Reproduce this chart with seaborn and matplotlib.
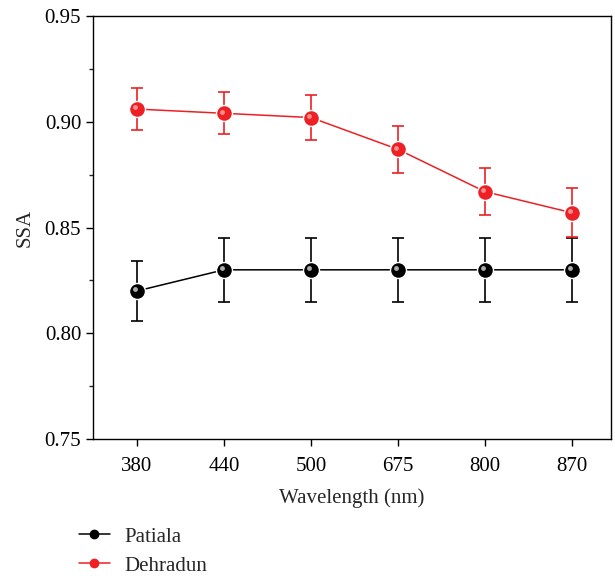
import matplotlib
matplotlib.use("Agg")
import matplotlib.pyplot as plt
import matplotlib.transforms as mtransforms
from matplotlib.lines import Line2D
from matplotlib.ticker import MultipleLocator
import seaborn as sns
import pandas as pd

wavelengths = ["380", "440", "500", "675", "800", "870"]
patiala = [0.820, 0.830, 0.830, 0.830, 0.830, 0.830]
patiala_err = [0.014, 0.015, 0.015, 0.015, 0.015, 0.015]
dehradun = [0.906, 0.904, 0.902, 0.887, 0.867, 0.857]
dehradun_err = [0.010, 0.010, 0.0105, 0.011, 0.011, 0.0115]

sns.set_theme(style="ticks")
plt.rcParams["font.family"] = ["Liberation Serif", "DejaVu Serif"]
plt.rcParams["font.size"] = 15

fig = plt.figure(figsize=(6.15, 5.76), dpi=100)
ax = fig.add_axes([0.1512, 0.2378, 0.842, 0.7344])

pos = list(range(len(wavelengths)))
df = pd.DataFrame({"pos": pos * 2,
                   "SSA": patiala + dehradun,
                   "site": ["Patiala"] * 6 + ["Dehradun"] * 6})

colors = {"Patiala": "#000000", "Dehradun": "#ee2024"}
errs = {"Patiala": patiala_err, "Dehradun": dehradun_err}
vals = {"Patiala": patiala, "Dehradun": dehradun}

for site in ["Patiala", "Dehradun"]:
    c = colors[site]
    ax.errorbar(pos, vals[site], yerr=errs[site], fmt="none", ecolor=c,
                elinewidth=1.2, capsize=4, capthick=1.2, zorder=2)
    sub = df[df.site == site]
    sns.lineplot(data=sub, x="pos", y="SSA", ax=ax, color=c, lw=1.1,
                 marker="o", markersize=11.5, markeredgecolor="white",
                 markeredgewidth=1.0, zorder=3, legend=False)
    hl = mtransforms.offset_copy(ax.transData, fig=fig, x=-1.2, y=1.2, units="points")
    ax.plot(pos, vals[site], ls="none", marker="o", markersize=3.5,
            color="#bfbfbf" if site == "Patiala" else "#f59a9c",
            markeredgewidth=0, transform=hl, zorder=4, alpha=0.9)

ax.set_xlim(-0.506, 5.45)
ax.set_ylim(0.75, 0.95)
ax.set_xticks(pos)
ax.set_xticklabels(wavelengths)
ax.yaxis.set_major_locator(MultipleLocator(0.05))
ax.yaxis.set_minor_locator(MultipleLocator(0.025))
ax.yaxis.set_major_formatter(matplotlib.ticker.FormatStrFormatter("%.2f"))
ax.tick_params(axis="both", which="major", direction="out", length=5, width=1,
               labelsize=15, color="black", labelcolor="black")
ax.tick_params(axis="y", which="minor", direction="out", length=3, width=1)
ax.tick_params(axis="x", pad=8)
ax.set_xlabel("Wavelength (nm)", fontsize=15, labelpad=9)
ax.set_ylabel("SSA", fontsize=15, labelpad=7)
for s in ax.spines.values():
    s.set_color("black")
    s.set_linewidth(1.0)
    s.set_visible(True)
ax.grid(False)

handles = [Line2D([], [], color=colors[s], lw=1.1, marker="o", markersize=6,
                  markeredgecolor=colors[s]) for s in ["Patiala", "Dehradun"]]
fig.legend(handles, ["Patiala", "Dehradun"], loc="upper left",
           bbox_to_anchor=(0.128, 0.085), frameon=False, fontsize=15,
           handlelength=1.5, handletextpad=0.7, labelspacing=0.45,
           borderaxespad=0, borderpad=0)

fig.savefig("out.png", dpi=100)
